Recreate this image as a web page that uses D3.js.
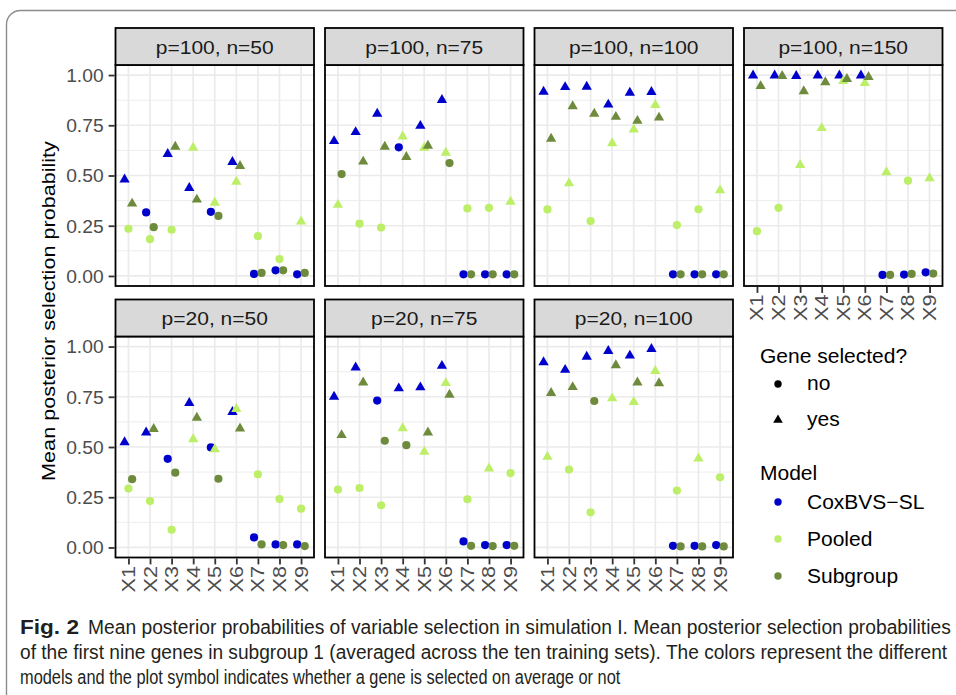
<!DOCTYPE html>
<html><head><meta charset="utf-8">
<script src="https://cdn.jsdelivr.net/npm/d3@7"></script>
<style>body{margin:0;background:#fff} svg{display:block}</style>
</head><body>
<svg id="c" width="956" height="695"></svg>
<script>
// ---------------- data ----------------
const genes = ["X1","X2","X3","X4","X5","X6","X7","X8","X9"];
const panelLabels = ["p=100, n=50","p=100, n=75","p=100, n=100","p=100, n=150","p=20, n=50","p=20, n=75","p=20, n=100"];
const modelNames = ["CoxBVS\u2212SL","Pooled","Subgroup"];
const modelColors = ["#0000CD","#BCEE68","#6E8B3D"];
const selectedLabels = ["no","yes"];
const yTicks = [0, 0.25, 0.5, 0.75, 1];
const yMinor = [0.125, 0.375, 0.625, 0.875];

// rows = panels (in panelLabels order), columns = genes X1..X9
const coxValues = [
  [0.480,0.316,0.607,0.438,0.319,0.567,0.010,0.028,0.008],
  [0.671,0.716,0.807,0.640,0.747,0.876,0.008,0.008,0.008],
  [0.917,0.940,0.942,0.853,0.912,0.916,0.008,0.008,0.008],
  [0.998,0.998,0.995,0.998,0.998,0.998,0.005,0.007,0.018],
  [0.524,0.572,0.441,0.719,0.498,0.674,0.050,0.015,0.015],
  [0.750,0.896,0.731,0.792,0.797,0.904,0.030,0.012,0.012],
  [0.922,0.884,0.949,0.978,0.955,0.988,0.008,0.008,0.012]
];
const coxSelected = [
  [1,0,1,1,0,1,0,0,0],
  [1,1,1,0,1,1,0,0,0],
  [1,1,1,1,1,1,0,0,0],
  [1,1,1,1,1,1,0,0,0],
  [1,1,0,1,0,1,0,0,0],
  [1,1,0,1,1,1,0,0,0],
  [1,1,1,1,1,1,0,0,0]
];
const pooledValues = [
  [0.235,0.183,0.230,0.638,0.364,0.469,0.198,0.084,0.271],
  [0.354,0.260,0.241,0.694,0.638,0.613,0.336,0.339,0.369],
  [0.331,0.461,0.273,0.661,0.729,0.851,0.253,0.332,0.426],
  [0.223,0.339,0.552,0.736,0.970,0.960,0.516,0.474,0.486],
  [0.293,0.231,0.088,0.539,0.489,0.689,0.364,0.241,0.193],
  [0.288,0.296,0.210,0.593,0.476,0.818,0.240,0.393,0.370],
  [0.451,0.388,0.175,0.742,0.724,0.878,0.283,0.443,0.349]
];
const pooledSelected = [
  [0,0,0,1,1,1,0,0,1],
  [1,0,0,1,1,1,0,0,1],
  [0,1,0,1,1,1,0,0,1],
  [0,0,1,1,1,1,1,0,1],
  [0,0,0,1,1,1,0,0,0],
  [0,0,0,1,1,1,0,1,0],
  [1,0,0,1,1,1,0,1,0]
];
const subgroupValues = [
  [0.360,0.243,0.643,0.380,0.299,0.547,0.015,0.028,0.015],
  [0.507,0.569,0.643,0.592,0.648,0.562,0.008,0.008,0.008],
  [0.683,0.845,0.807,0.792,0.772,0.788,0.008,0.008,0.008],
  [0.945,0.995,0.919,0.964,0.980,0.990,0.005,0.010,0.012],
  [0.340,0.590,0.372,0.646,0.342,0.592,0.015,0.012,0.007],
  [0.559,0.821,0.531,0.509,0.572,0.760,0.008,0.007,0.008],
  [0.769,0.798,0.729,0.907,0.821,0.817,0.005,0.005,0.005]
];
const subgroupSelected = [
  [1,0,1,1,0,1,0,0,0],
  [0,1,1,1,1,0,0,0,0],
  [1,1,1,1,1,1,0,0,0],
  [1,1,1,1,1,1,0,0,0],
  [0,1,0,1,0,1,0,0,0],
  [1,1,0,0,1,1,0,0,0],
  [1,1,0,1,1,1,0,0,0]
];
const captionLines = [
  "Mean posterior probabilities of variable selection in simulation I. Mean posterior selection probabilities",
  "of the first nine genes in subgroup 1 (averaged across the ten training sets). The colors represent the different",
  "models and the plot symbol indicates whether a gene is selected on average or not"
];

// ---------------- layout ----------------
const svg = d3.select("#c");
const FONT = "'Liberation Sans', Arial, Helvetica, sans-serif";
const panelW = 198.5, panelH = 221, stripH = 37;
const colLeft = c => 115.5 + c * 209.5;
const rowTop = [65, 336.5];
const dodge = [-0.18, 0, 0.17];

function stretch(sel, k) {
  sel.each(function () {
    const L = this.getComputedTextLength();
    d3.select(this).attr("textLength", L * k).attr("lengthAdjust", "spacingAndGlyphs");
  });
}

// outer frame
svg.append("rect").attr("x", 6.5).attr("y", 10.5).attr("width", 1000).attr("height", 800)
  .attr("rx", 14).attr("fill", "none").attr("stroke", "#8c8c8c").attr("stroke-width", 1.4);

const series = [
  {vals: coxValues, sel: coxSelected},
  {vals: pooledValues, sel: pooledSelected},
  {vals: subgroupValues, sel: subgroupSelected}
];

const triangle = d3.symbol().type(d3.symbolTriangle).size(46);

panelLabels.forEach((lab, k) => {
  const col = k % 4, row = Math.floor(k / 4);
  const x0 = colLeft(col), y0 = rowTop[row];
  const x = d3.scalePoint().domain(genes).range([x0, x0 + panelW]).padding(0.6);
  const y = d3.scaleLinear().domain([-0.05, 1.05]).range([y0 + panelH, y0]);
  const g = svg.append("g");

  g.append("rect").attr("x", x0).attr("y", y0).attr("width", panelW).attr("height", panelH).attr("fill", "#fff");
  g.selectAll(".gmin").data(yMinor).join("line")
    .attr("x1", x0).attr("x2", x0 + panelW).attr("y1", d => y(d)).attr("y2", d => y(d))
    .attr("stroke", "#EBEBEB").attr("stroke-width", 0.9);
  g.selectAll(".gmaj").data(yTicks).join("line")
    .attr("x1", x0).attr("x2", x0 + panelW).attr("y1", d => y(d)).attr("y2", d => y(d))
    .attr("stroke", "#EBEBEB").attr("stroke-width", 1.7);
  g.selectAll(".gx").data(genes).join("line")
    .attr("x1", d => x(d)).attr("x2", d => x(d)).attr("y1", y0).attr("y2", y0 + panelH)
    .attr("stroke", "#EBEBEB").attr("stroke-width", 1.7);

  const step = x.step();
  series.forEach((s, m) => {
    const pts = genes.map((gn, i) => ({gene: gn, v: s.vals[k][i], sel: s.sel[k][i]}));
    pts.forEach(p => {
      const px = x(p.gene) + dodge[m] * step, py = y(p.v);
      if (p.sel) {
        g.append("path").attr("d", triangle).attr("transform", `translate(${px},${py})`).attr("fill", modelColors[m]);
      } else {
        g.append("circle").attr("cx", px).attr("cy", py).attr("r", 4.1).attr("fill", modelColors[m]);
      }
    });
  });

  g.append("rect").attr("x", x0).attr("y", y0).attr("width", panelW).attr("height", panelH)
    .attr("fill", "none").attr("stroke", "#000").attr("stroke-width", 1.8);
  g.append("rect").attr("x", x0).attr("y", y0 - stripH).attr("width", panelW).attr("height", stripH)
    .attr("fill", "#D9D9D9").attr("stroke", "#000").attr("stroke-width", 1.8);
  const st = g.append("text").attr("x", x0 + panelW / 2).attr("y", y0 - 11.5).attr("text-anchor", "middle")
    .attr("font-family", FONT).attr("font-size", 17.5).attr("fill", "#1A1A1A").text(lab);
  stretch(st, 1.2);

  if (col === 0) {
    const ay = g.append("g").attr("transform", `translate(${x0 - 0.9},0)`)
      .call(d3.axisLeft(y).tickValues(yTicks).tickFormat(d3.format(".2f")).tickSize(6).tickPadding(5));
    ay.select(".domain").remove();
    ay.selectAll("line").attr("stroke", "#333").attr("stroke-width", 1.8);
    ay.selectAll("text").attr("font-family", FONT).attr("font-size", 17.5).attr("fill", "#4D4D4D").attr("dy", "0.36em");
    stretch(ay.selectAll("text"), 1.1);
  }
  if (row === 1 || col === 3) {
    const yb = y0 + panelH;
    const ax = g.append("g").attr("transform", `translate(0,${yb + 0.9})`)
      .call(d3.axisBottom(x).tickSize(6).tickFormat(""));
    ax.select(".domain").remove();
    ax.selectAll("line").attr("stroke", "#333").attr("stroke-width", 1.8);
    const xt = g.selectAll(".xl").data(genes).join("text")
      .attr("transform", d => `translate(${x(d)},${yb + 8.5}) rotate(-90)`)
      .attr("text-anchor", "end").attr("dy", "0.36em")
      .attr("font-family", FONT).attr("font-size", 18).attr("fill", "#4D4D4D").text(d => d);
    stretch(xt, 1.2);
  }
});

const yt = svg.append("text").attr("transform", "translate(55,311) rotate(-90)").attr("text-anchor", "middle")
  .attr("font-family", FONT).attr("font-size", 18).attr("fill", "#000").text("Mean posterior selection probability");
stretch(yt, 1.2);

// legend
const lg = svg.append("g").attr("font-family", FONT).attr("font-size", 20).attr("fill", "#000");
const lgX = 760, keyX = 778, txtX = 807;
stretch(lg.append("text").attr("x", lgX).attr("y", 363).text("Gene selected?"), 1.05);
const shapeY = [384, 420];
selectedLabels.forEach((t, i) => {
  if (i === 0) lg.append("circle").attr("cx", keyX).attr("cy", shapeY[i]).attr("r", 3.7).attr("fill", "#000");
  else lg.append("path").attr("d", d3.symbol().type(d3.symbolTriangle).size(40)).attr("transform", `translate(${keyX},${shapeY[i]})`).attr("fill", "#000");
  stretch(lg.append("text").attr("x", txtX).attr("y", shapeY[i] + 5.5).text(t), 1.05);
});
stretch(lg.append("text").attr("x", lgX).attr("y", 480).text("Model"), 1.05);
const modelY = [502, 539, 576];
modelNames.forEach((t, i) => {
  lg.append("circle").attr("cx", keyX).attr("cy", modelY[i]).attr("r", 3.7).attr("fill", modelColors[i]);
  stretch(lg.append("text").attr("x", txtX).attr("y", modelY[i] + 7).text(t), 1.05);
});

// caption (condensed look: small font, fitted width, stretched vertically)
const CF = "'Liberation Sans', Arial, sans-serif";
const capStart = [88, 20, 20], capEnd = [951, 948, 621], capY = [634, 659, 684];
function capText(x, y, w, t, bold) {
  const el = svg.append("text").attr("x", 0).attr("y", 0)
    .attr("font-family", CF).attr("font-size", 16).attr("fill", "#231F20")
    .attr("font-weight", bold ? "bold" : "normal").text(t);
  const L = el.node().getComputedTextLength();
  const sx = w / L;
  el.attr("transform", `translate(${x},${y}) scale(${sx},1.22)`);
}
capText(20, 634, 59, "Fig. 2", true);
captionLines.forEach((t, i) => capText(capStart[i], capY[i], capEnd[i] - capStart[i], t, false));
</script>
</body></html>
